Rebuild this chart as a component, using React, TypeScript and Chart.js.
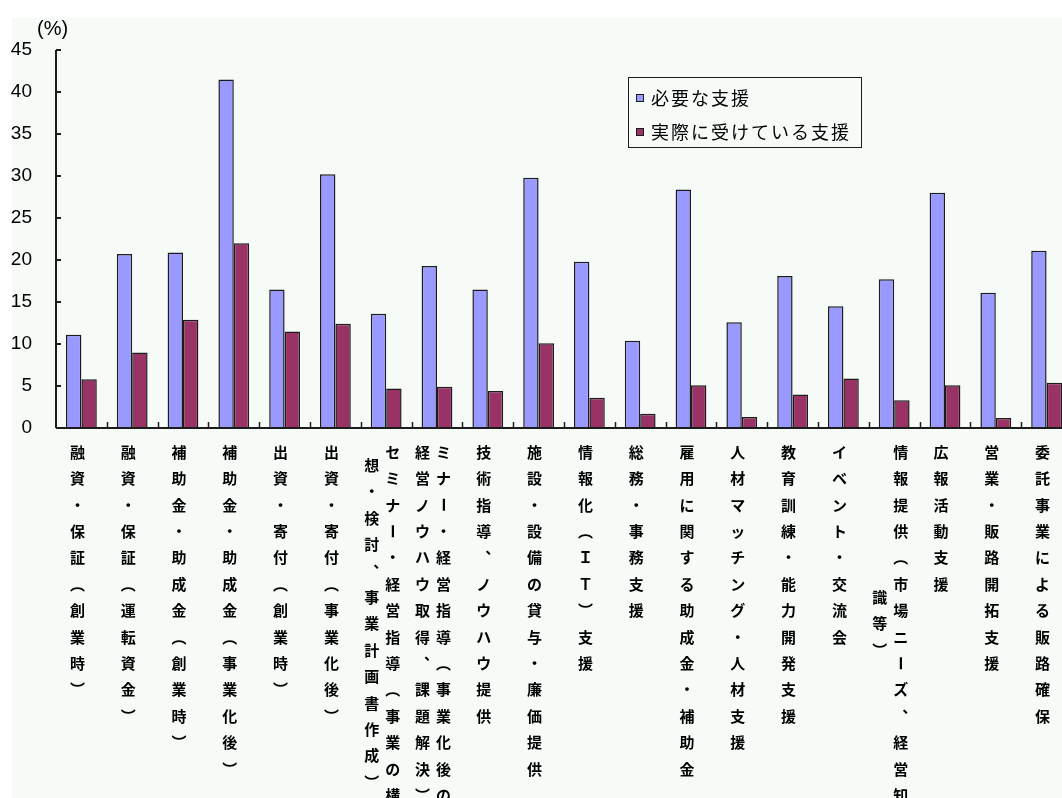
import React, { useEffect, useRef } from "react";
import { Chart, registerables } from "chart.js";

Chart.register(...registerables);

// Category names; "\n" marks where a vertical label wraps into a further column (to the left).
const categories: string[] = [
  "融資・保証（創業時）",
  "融資・保証（運転資金）",
  "補助金・助成金（創業時）",
  "補助金・助成金（事業化後）",
  "出資・寄付（創業時）",
  "出資・寄付（事業化後）",
  "セミナー・経営指導（事業の構\n想・検討、事業計画書作成）",
  "ミナー・経営指導（事業化後の\n経営ノウハウ取得、課題解決）",
  "技術指導、ノウハウ提供",
  "施設・設備の貸与・廉価提供",
  "情報化（ＩＴ）支援",
  "総務・事務支援",
  "雇用に関する助成金・補助金",
  "人材マッチング・人材支援",
  "教育訓練・能力開発支援",
  "イベント・交流会",
  "情報提供（市場ニーズ、経営知\n識等）",
  "広報活動支援",
  "営業・販路開拓支援",
  "委託事業による販路確保",
];

const seriesNames: string[] = ["必要な支援", "実際に受けている支援"];

// 必要な支援 (%)
const neededSupport: number[] = [
  11.1, 20.7, 20.9, 41.5, 16.5, 30.2, 13.6, 19.3, 16.5, 29.8,
  19.8, 10.4, 28.4, 12.6, 18.1, 14.5, 17.7, 28.0, 16.1, 21.1,
];

// 実際に受けている支援 (%)
const receivedSupport: number[] = [
  5.8, 9.0, 12.9, 22.0, 11.5, 12.4, 4.7, 4.9, 4.4, 10.1,
  3.6, 1.7, 5.1, 1.3, 4.0, 5.9, 3.3, 5.1, 1.2, 5.4,
];

const seriesColors: string[] = ["#9999ff", "#993366"];
const yMin = 0;
const yMax = 45;
const yStep = 5;
const unitLabel = "(%)";

const CANVAS_W = 1085;
const CANVAS_H = 798;
const LABEL_FONT = "bold 15px 'Noto Sans CJK JP', 'Noto Sans CJK SC', sans-serif";
const AXIS_COLOR = "#1c1c1c";

// Vertical presentation forms for characters that turn in vertical writing.
const verticalForms: Record<string, string> = {
  "（": "\uFE35",
  "）": "\uFE36",
  "、": "\uFE11",
};
const rotatedChars = new Set(["ー", "－", "〜"]);

const backgroundPlugin = {
  id: "paperBackground",
  beforeDraw(chart: any) {
    const { ctx, width, height } = chart;
    ctx.save();
    ctx.fillStyle = "#ffffff";
    ctx.fillRect(0, 0, width, height);
    ctx.fillStyle = "#f6fbf8";
    ctx.fillRect(12, 18, width - 12, height - 18);
    ctx.restore();
  },
};

const axesPlugin = {
  id: "excelAxes",
  afterDatasetsDraw(chart: any) {
    const { ctx, chartArea } = chart;
    const x = chart.scales.x;
    const y = chart.scales.y;
    const y0 = y.getPixelForValue(yMin);
    const yTop = y.getPixelForValue(yMax);
    ctx.save();
    ctx.strokeStyle = AXIS_COLOR;
    ctx.lineWidth = 2;
    ctx.beginPath();
    // value axis with inward tick marks
    ctx.moveTo(chartArea.left, y0);
    ctx.lineTo(chartArea.left, yTop);
    for (let v = yMin; v <= yMax; v += yStep) {
      const py = y.getPixelForValue(v);
      ctx.moveTo(chartArea.left, py);
      ctx.lineTo(chartArea.left + 5, py);
    }
    // category axis
    ctx.moveTo(chartArea.left, y0);
    ctx.lineTo(chartArea.right, y0);
    ctx.stroke();
    // short upward marks between categories
    ctx.lineWidth = 1.5;
    ctx.beginPath();
    for (let i = 1; i < categories.length; i++) {
      const px = Math.round((x.getPixelForValue(i - 1) + x.getPixelForValue(i)) / 2) + 0.5;
      ctx.moveTo(px, y0);
      ctx.lineTo(px, y0 - 6);
    }
    ctx.stroke();

    // unit label above the value axis
    ctx.fillStyle = "#000";
    ctx.font = "20px 'Liberation Sans', sans-serif";
    ctx.textAlign = "left";
    ctx.textBaseline = "middle";
    ctx.fillText(unitLabel, 37, 29);
    ctx.restore();
  },
};

const verticalLabelsPlugin = {
  id: "verticalCategoryLabels",
  afterDraw(chart: any) {
    const { ctx } = chart;
    const x = chart.scales.x;
    const labelTop = chart.chartArea.bottom + 24;
    const step = 26.4;
    const colGap = 21;
    ctx.save();
    ctx.font = LABEL_FONT;
    ctx.fillStyle = "#000";
    ctx.textAlign = "center";
    ctx.textBaseline = "middle";
    (chart.data.labels as string[]).forEach((label, i) => {
      const cx = x.getPixelForValue(i) - 4;
      const cols = label.split("\n").map((c) => Array.from(c));
      const maxLen = Math.max(...cols.map((c) => c.length));
      cols.forEach((chars, c) => {
        const colX = cx + ((cols.length - 1) / 2 - c) * colGap;
        const startY = labelTop + ((maxLen - chars.length) / 2) * step;
        chars.forEach((ch, k) => {
          const py = startY + k * step;
          if (rotatedChars.has(ch)) {
            ctx.save();
            ctx.translate(colX, py);
            ctx.rotate(Math.PI / 2);
            ctx.fillText(ch, 0, 0);
            ctx.restore();
          } else {
            ctx.fillText(verticalForms[ch] ?? ch, colX, py);
          }
        });
      });
    });
    ctx.restore();
  },
};

const legendPlugin = {
  id: "boxedLegend",
  afterDraw(chart: any) {
    const { ctx } = chart;
    const left = 628;
    const top = 77;
    const w = 233;
    const h = 70;
    ctx.save();
    ctx.strokeStyle = AXIS_COLOR;
    ctx.lineWidth = 1;
    ctx.strokeRect(left + 0.5, top + 0.5, w, h);
    ctx.font = "18px 'Noto Sans CJK JP', 'Noto Sans CJK SC', sans-serif";
    (ctx as any).letterSpacing = "2px";
    ctx.textAlign = "left";
    ctx.textBaseline = "middle";
    chart.data.datasets.forEach((ds: any, i: number) => {
      const cy = top + 21 + i * 34;
      ctx.fillStyle = ds.backgroundColor;
      ctx.fillRect(636, cy - 4, 8, 8);
      ctx.strokeRect(636.5, cy - 3.5, 7, 7);
      ctx.fillStyle = "#000";
      ctx.fillText(ds.label, 651, cy);
    });
    ctx.restore();
  },
};

export default function App() {
  const canvasRef = useRef<HTMLCanvasElement | null>(null);

  useEffect(() => {
    if (!canvasRef.current) return;
    const chart = new Chart(canvasRef.current, {
      type: "bar",
      data: {
        labels: categories,
        datasets: [
          {
            label: seriesNames[0],
            data: neededSupport,
            backgroundColor: seriesColors[0],
            borderColor: AXIS_COLOR,
            borderWidth: 1.5,
            borderSkipped: "bottom",
          },
          {
            label: seriesNames[1],
            data: receivedSupport,
            backgroundColor: seriesColors[1],
            borderColor: AXIS_COLOR,
            borderWidth: 1.5,
            borderSkipped: "bottom",
          },
        ],
      },
      options: {
        responsive: false,
        animation: false,
        devicePixelRatio: 1,
        layout: { padding: { top: 50, right: 13, left: 0, bottom: 0 } },
        datasets: { bar: { barPercentage: 1, categoryPercentage: 0.606 } },
        plugins: {
          legend: { display: false },
          tooltip: { enabled: false },
          title: { display: false },
        },
        scales: {
          x: {
            type: "category",
            grid: { display: false },
            border: { display: false },
            ticks: { display: false },
            afterFit: (scale: any) => {
              scale.height = 370;
            },
          },
          y: {
            min: yMin,
            max: yMax,
            grid: { display: false },
            border: { display: false },
            ticks: {
              stepSize: yStep,
              padding: 16,
              color: "#000",
              font: { family: "'Liberation Sans', sans-serif", size: 19 },
            },
            afterFit: (scale: any) => {
              scale.width = 56;
            },
          },
        },
      },
      plugins: [backgroundPlugin, axesPlugin, verticalLabelsPlugin, legendPlugin],
    });
    return () => chart.destroy();
  }, []);

  return (
    <div
      style={{
        position: "fixed",
        left: 0,
        top: 0,
        width: 1062,
        height: 798,
        overflow: "hidden",
        background: "#fff",
      }}
    >
      <canvas
        ref={canvasRef}
        width={CANVAS_W}
        height={CANVAS_H}
        style={{ display: "block", width: CANVAS_W, height: CANVAS_H }}
      />
    </div>
  );
}
